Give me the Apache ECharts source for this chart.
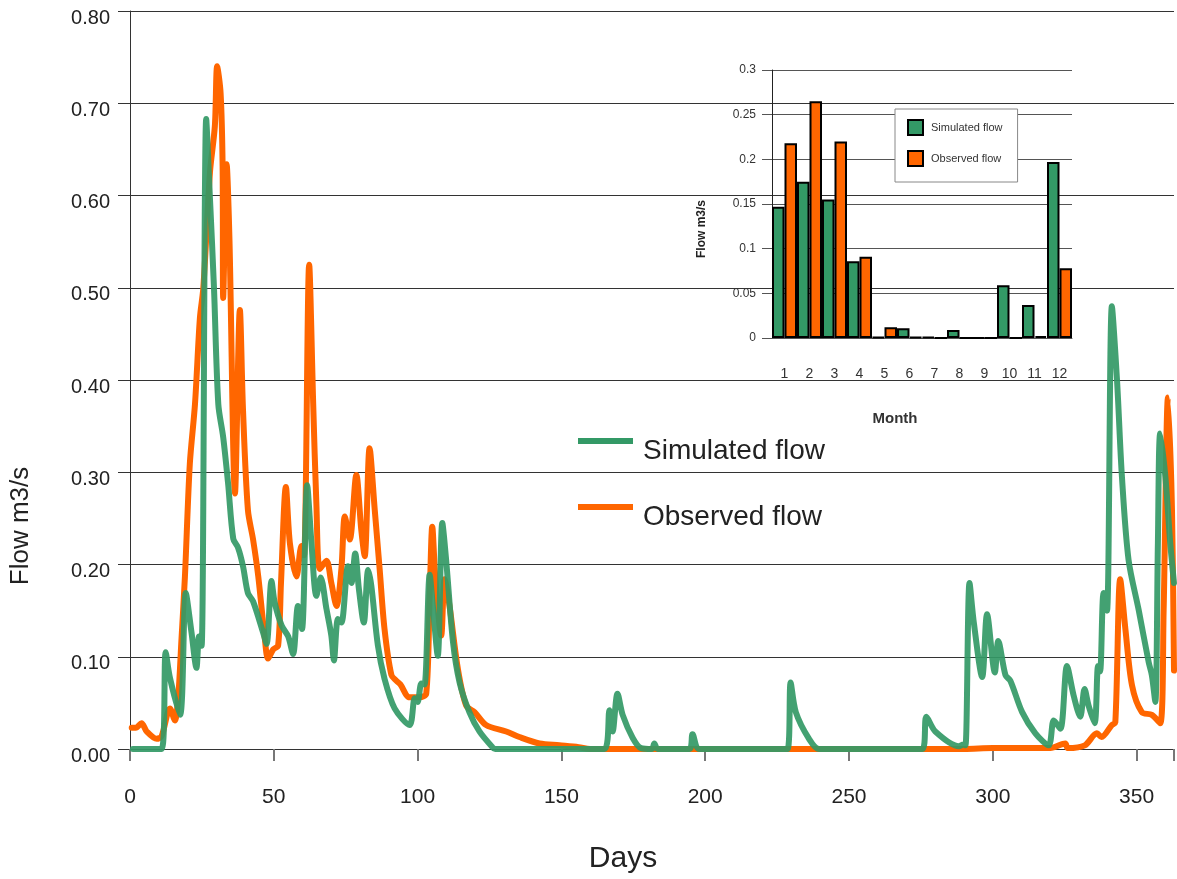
<!DOCTYPE html>
<html>
<head>
<meta charset="utf-8">
<script src="https://cdn.jsdelivr.net/npm/echarts@6/dist/echarts.min.js"></script>
<style>
  html, body { margin: 0; padding: 0; background: #fff; overflow: hidden; }
  #chart { width: 1177px; height: 879px; }
</style>
</head>
<body>
<div id="chart"></div>
<script>
const chart = echarts.init(document.getElementById("chart"));

/** daily flow as [day, value] pairs */
const simDays = [1, 11, 12.4, 13.9, 17.4, 19.4, 21.4, 23.1, 24, 24.9, 26.5, 27.8, 29.2, 30.7, 32.4, 34.1, 35.9, 37.6, 39.3, 41, 42.8, 46.3, 47.5, 49.2, 50.3, 52.7, 55, 56.7, 58.4, 59.8, 61.6, 63.1, 64.8, 66.3, 68.3, 70, 70.9, 72.3, 73.5, 75.8, 77, 78.3, 79.6, 81.3, 82.8, 83.9, 86.2, 88.5, 92, 97.2, 99, 100, 101.3, 102.4, 104.2, 105.3, 107, 108.6, 110, 112.3, 114.6, 118, 121.5, 126, 127, 165, 166.7, 167.8, 169.5, 171.3, 174.8, 177.7, 181.5, 182.3, 183.5, 194.5, 195.6, 198, 228.6, 229.7, 231.5, 236.1, 239.6, 275.5, 276.9, 280, 288.2, 289.8, 290.5, 291.9, 293.4, 296.3, 298, 300.7, 301.9, 304.4, 306.1, 310.2, 314.8, 319.4, 321.2, 323.5, 325.8, 328.1, 330.4, 331.9, 333.3, 335.4, 336.6, 337.3, 338.5, 339.7, 341.4, 343.2, 344.9, 347.2, 350.7, 354.2, 355.3, 356.5, 357.4, 358.2, 360, 361.7, 363];
const simFlow = [0, 0, 0.105, 0.077, 0.037, 0.169, 0.126, 0.088, 0.122, 0.112, 0.683, 0.597, 0.50, 0.374, 0.338, 0.288, 0.228, 0.218, 0.198, 0.169, 0.160, 0.126, 0.114, 0.182, 0.159, 0.134, 0.122, 0.103, 0.155, 0.130, 0.286, 0.223, 0.166, 0.186, 0.152, 0.123, 0.096, 0.141, 0.137, 0.198, 0.180, 0.212, 0.173, 0.137, 0.194, 0.177, 0.112, 0.076, 0.044, 0.026, 0.055, 0.051, 0.071, 0.070, 0.189, 0.155, 0.101, 0.245, 0.202, 0.116, 0.072, 0.040, 0.019, 0.002, 0, 0, 0.042, 0.019, 0.060, 0.037, 0.012, 0.001, 0, 0.006, 0, 0, 0.016, 0, 0, 0.072, 0.040, 0.011, 0, 0, 0.035, 0.019, 0.003, 0.005, 0.004, 0.180, 0.137, 0.078, 0.146, 0.083, 0.117, 0.080, 0.074, 0.040, 0.017, 0.004, 0.031, 0.022, 0.090, 0.058, 0.035, 0.065, 0.047, 0.028, 0.090, 0.084, 0.169, 0.150, 0.480, 0.399, 0.295, 0.205, 0.151, 0.094, 0.080, 0.051, 0.223, 0.342, 0.295, 0.223, 0.180];

const obsDays = [0.6, 2, 4, 5.8, 9.3, 11, 13.9, 15.6, 16.8, 17.9, 19.1, 20.8, 22.6, 24.3, 25.5, 27.8, 29.5, 30.3, 31.5, 32.2, 32.4, 33.6, 34.6, 36.5, 38.2, 39.3, 41, 42.8, 44.6, 46.9, 48, 49.8, 51.5, 52.5, 54.2, 55.6, 57.9, 59.6, 60.5, 62.3, 63.7, 64.8, 66, 68.3, 70, 71.8, 73.5, 74.7, 76.4, 78.7, 80.4, 81.6, 83.3, 85.1, 86.8, 88.5, 90.9, 92.6, 94, 97.2, 100.7, 103, 104.2, 105.1, 106.2, 108.2, 109.4, 111.1, 114, 116.9, 119.8, 123.8, 130.8, 135.4, 142.4, 149.3, 156, 160, 290, 300, 320, 325.2, 326, 332, 336.2, 337.8, 341.4, 342.6, 344.3, 346.1, 348.4, 351.8, 355.3, 358.2, 359.4, 360.9, 362.3, 363];
const obsFlow = [0.023, 0.023, 0.028, 0.019, 0.011, 0.014, 0.044, 0.031, 0.058, 0.119, 0.187, 0.309, 0.374, 0.467, 0.500, 0.625, 0.675, 0.740, 0.711, 0.632, 0.489, 0.634, 0.550, 0.277, 0.476, 0.367, 0.259, 0.227, 0.187, 0.119, 0.098, 0.108, 0.112, 0.180, 0.284, 0.223, 0.187, 0.220, 0.210, 0.525, 0.374, 0.266, 0.195, 0.204, 0.180, 0.155, 0.195, 0.252, 0.227, 0.297, 0.238, 0.209, 0.326, 0.259, 0.195, 0.130, 0.080, 0.074, 0.070, 0.056, 0.056, 0.060, 0.166, 0.241, 0.184, 0.123, 0.184, 0.155, 0.087, 0.047, 0.040, 0.026, 0.019, 0.013, 0.006, 0.004, 0.002, 0, 0, 0.001, 0.001, 0.006, 0.001, 0.004, 0.017, 0.013, 0.026, 0.029, 0.184, 0.130, 0.069, 0.040, 0.037, 0.028, 0.151, 0.381, 0.259, 0.085];

/** monthly means for the small chart */
const months = ["1", "2", "3", "4", "5", "6", "7", "8", "9", "10", "11", "12"];
const simMonthly = [0.147, 0.175, 0.155, 0.086, 0.001, 0.011, 0.001, 0.009, 0, 0.059, 0.037, 0.197];
const obsMonthly = [0.218, 0.265, 0.220, 0.091, 0.012, 0.001, 0, 0, 0, 0, 0.002, 0.078];

const GREEN = "#339966";
const ORANGE = "#ff6600";
const FONT = "Liberation Sans";

// legend swatch: a bar on top, blank space under it so the text sits lower
const SWATCH = "path://M0,0H55V6H0Z M0,26L55,26";

function pairs(days, vals) {
  return days.map((d, i) => [d, vals[i]]);
}

const option = {
  animation: false,
  backgroundColor: "#fff",
  textStyle: { fontFamily: FONT },
  grid: [
    { left: 130, right: 0, top: 11, bottom: 125 },
    { left: 772, top: 70, width: 300, height: 268 }
  ],
  legend: [
    {
      data: ["Simulated flow"],
      left: 578, top: 437, padding: 0,
      icon: SWATCH, itemWidth: 55, itemHeight: 26,
      itemStyle: { borderWidth: 0 },
      textStyle: { fontSize: 28, color: "#222", fontFamily: FONT, padding: [0, 0, 0, 5] }
    },
    {
      data: ["Observed flow"],
      left: 578, top: 503, padding: 0,
      icon: SWATCH, itemWidth: 55, itemHeight: 26,
      itemStyle: { borderWidth: 0 },
      textStyle: { fontSize: 28, color: "#222", fontFamily: FONT, padding: [0, 0, 0, 5] }
    },
    {
      data: ["Simulated flow ", "Observed flow "],
      orient: "vertical",
      left: 895, top: 109,
      padding: [10, 12, 15, 12],
      itemGap: 14, itemWidth: 15, itemHeight: 15,
      icon: "rect",
      backgroundColor: "#fff", borderColor: "#888", borderWidth: 1,
      textStyle: { fontSize: 11, color: "#333", fontFamily: FONT, padding: [0, 0, 0, 3] }
    }
  ],
  xAxis: [
    {
      type: "value", gridIndex: 0, min: 0, max: 363, interval: 50,
      name: "Days", nameLocation: "middle", nameGap: 95,
      nameTextStyle: { fontSize: 30, color: "#222", fontFamily: FONT, padding: [0, 58, 0, 0] },
      axisLine: { lineStyle: { color: "#333" } },
      axisTick: { length: 12, lineStyle: { color: "#777", width: 2 } },
      axisLabel: {
        fontSize: 21, color: "#222", margin: 38,
        formatter: v => (v % 50 === 0 ? String(v) : "")
      },
      splitLine: { show: false }
    },
    {
      type: "category", gridIndex: 1, data: months,
      name: "Month", nameLocation: "middle", nameGap: 73,
      nameTextStyle: { fontSize: 15, fontWeight: "bold", color: "#333", fontFamily: FONT, padding: [0, 54, 0, 0] },
      axisLine: { lineStyle: { color: "#555" } },
      axisTick: { length: 10, lineStyle: { color: "#555" } },
      axisLabel: { fontSize: 14, color: "#333", margin: 29 }
    }
  ],
  yAxis: [
    {
      type: "value", gridIndex: 0, min: 0, max: 0.8, interval: 0.1,
      name: "Flow m3/s", nameLocation: "middle", nameGap: 96,
      nameTextStyle: { fontSize: 26, color: "#222", fontFamily: FONT, padding: [0, 292, 0, 0] },
      axisLine: { show: true, lineStyle: { color: "#333" } },
      axisTick: { show: true, length: 12, lineStyle: { color: "#333" } },
      axisLabel: {
        fontSize: 20, color: "#222", margin: 20,
        verticalAlign: "top", lineHeight: 14,
        formatter: v => v.toFixed(2)
      },
      splitLine: { lineStyle: { color: "#333", width: 1 } }
    },
    {
      type: "value", gridIndex: 1, min: 0, max: 0.3, interval: 0.05,
      name: "Flow m3/s", nameLocation: "middle", nameGap: 64,
      nameTextStyle: { fontSize: 12, fontWeight: "bold", color: "#222", fontFamily: FONT, padding: [0, 50, 0, 0] },
      axisLine: { show: true, lineStyle: { color: "#222" } },
      axisTick: { show: true, length: 10, lineStyle: { color: "#555" } },
      axisLabel: { fontSize: 12, color: "#333", margin: 16 },
      splitLine: { lineStyle: { color: "#555", width: 1 } }
    }
  ],
  series: [
    {
      name: "Observed flow", type: "line", xAxisIndex: 0, yAxisIndex: 0,
      data: pairs(obsDays, obsFlow),
      smooth: 0.3, symbol: "none",
      itemStyle: { color: ORANGE },
      lineStyle: { color: ORANGE, width: 6, cap: "round", join: "round" },
      z: 3
    },
    {
      name: "Simulated flow", type: "line", xAxisIndex: 0, yAxisIndex: 0,
      data: pairs(simDays, simFlow),
      smooth: 0.3, symbol: "none",
      itemStyle: { color: GREEN },
      lineStyle: { color: GREEN, width: 6, cap: "round", join: "round", opacity: 0.92 },
      z: 4
    },
    {
      name: "Simulated flow ", type: "bar", xAxisIndex: 1, yAxisIndex: 1,
      data: simMonthly,
      barGap: "0%", barCategoryGap: "0%",
      itemStyle: { color: GREEN, borderColor: "#000", borderWidth: 2 },
      z: 5
    },
    {
      name: "Observed flow ", type: "bar", xAxisIndex: 1, yAxisIndex: 1,
      data: obsMonthly,
      barGap: "0%", barCategoryGap: "0%",
      itemStyle: { color: ORANGE, borderColor: "#000", borderWidth: 2 },
      z: 5
    }
  ]
};

chart.setOption(option);
</script>
</body>
</html>
